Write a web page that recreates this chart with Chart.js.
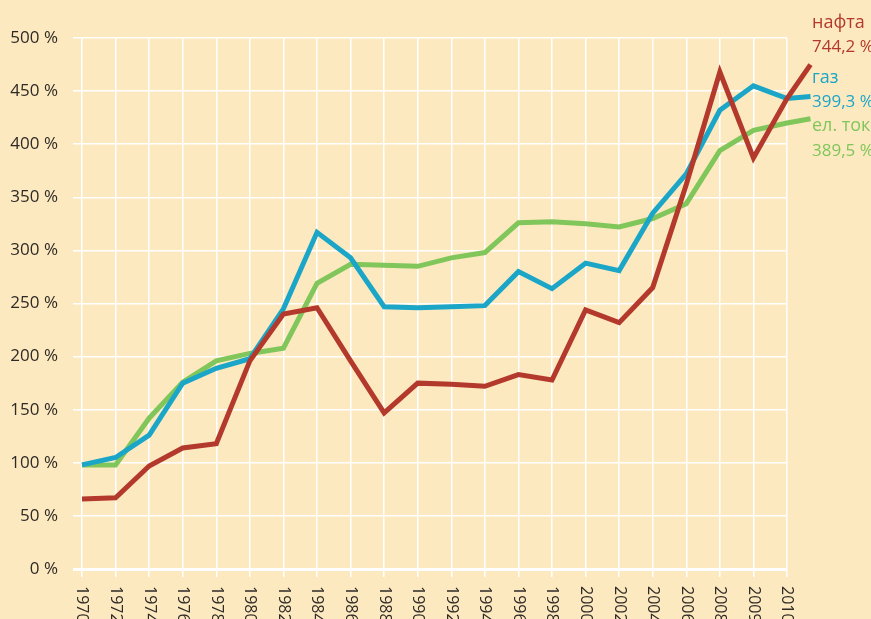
<!DOCTYPE html>
<html>
<head>
<meta charset="utf-8">
<script src="https://cdn.jsdelivr.net/npm/chart.js@4.4.0/dist/chart.umd.min.js"></script>
<style>
    html, body { margin: 0; padding: 0; background: #fde9c0; }
    #wrap { width: 871px; height: 619px; }
</style>
</head>
<body>
<div id="wrap"><canvas id="grafik"></canvas></div>
<script>
// Години на x-оската
const godini = ['1970', '1972', '1974', '1976', '1978', '1980', '1982', '1984', '1986', '1988',
    '1990', '1992', '1994', '1996', '1998', '2000', '2002', '2004', '2006', '2008', '2009', '2010'];
// последното мерење е малку по 2010 (дел од интервалот)
const posledno = godini.length - 1 + 0.7;

// Вредности во % (1970 = база)
const nafta = [66, 67, 97, 114, 118, 196, 240, 246, 196, 147, 175, 174, 172, 183, 178, 244, 232, 265, 362, 468, 387, 443, 475];
const gas = [98, 105, 126, 175, 189, 198, 245, 317, 293, 247, 246, 247, 248, 280, 264, 288, 281, 335, 372, 432, 455, 443, 445];
const struja = [98, 98, 142, 176, 196, 203, 208, 269, 287, 286, 285, 293, 298, 326, 327, 325, 322, 330, 344, 394, 413, 420, 424];

const iminja = ['нафта', 'газ', 'ел. ток'];
const vrednosti = ['744,2 %', '399,3 %', '389,5 %'];
const boi = ['#b3392c', '#1ba6c8', '#80c65a'];

const FONT = '"Open Sans", "Noto Sans", sans-serif';

function punkti(niza) {
    return niza.map((v, i) => ({ x: i < godini.length ? i : posledno, y: v }));
}

// Ознаки на x-оската (ротирани надолу) и имињата на серии десно
const oznakiPlugin = {
    id: 'oznaki',
    afterDraw(chart) {
        const ctx = chart.ctx;
        const xs = chart.scales.x;
        const area = chart.chartArea;

        ctx.save();
        ctx.font = '16px ' + FONT;
        ctx.fillStyle = '#2e2a25';
        ctx.textAlign = 'left';
        ctx.textBaseline = 'middle';
        xs.ticks.forEach(t => {
            const px = xs.getPixelForValue(t.value);
            ctx.save();
            ctx.translate(px, area.bottom + 17);
            ctx.rotate(Math.PI / 2);
            ctx.fillText(godini[t.value], 0, 0);
            ctx.restore();
        });

        const lx = area.right + 25;
        const redovi = [[28, 52], [83, 107], [131, 156]];
        ctx.textBaseline = 'alphabetic';
        iminja.forEach((ime, i) => {
            ctx.fillStyle = boi[i];
            ctx.font = '18px ' + FONT;
            ctx.fillText(ime, lx, redovi[i][0]);
            ctx.font = '17px ' + FONT;
            ctx.fillText(vrednosti[i], lx, redovi[i][1]);
        });
        ctx.restore();
    }
};

function linija(label, podatoci, boja) {
    return {
        label: label,
        data: punkti(podatoci),
        borderColor: boja,
        backgroundColor: boja,
        borderWidth: 5,
        pointRadius: 0,
        tension: 0,
        borderJoinStyle: 'miter',
        borderCapStyle: 'butt',
        clip: false
    };
}

new Chart(document.getElementById('grafik'), {
    type: 'line',
    data: {
        datasets: [
            linija(iminja[0], nafta, boi[0]),
            linija(iminja[1], gas, boi[1]),
            linija(iminja[2], struja, boi[2])
        ]
    },
    options: {
        responsive: true,
        maintainAspectRatio: false,
        animation: false,
        layout: {
            padding: { top: 38, right: 84, bottom: 0, left: 0 }
        },
        plugins: {
            legend: { display: false },
            tooltip: { enabled: false }
        },
        scales: {
            x: {
                type: 'linear',
                bounds: 'data',
                // оската завршува на 2010, линиите продолжуваат надвор
                afterDataLimits: s => { s.min = 0; s.max = godini.length - 1; },
                afterBuildTicks: s => { s.ticks = godini.map((g, i) => ({ value: i })); },
                border: { display: false },
                grid: {
                    color: '#ffffff',
                    lineWidth: 1.5,
                    tickLength: 8
                },
                ticks: { display: false, autoSkip: false, stepSize: 1 },
                afterFit: s => { s.height = 50; }
            },
            y: {
                min: 0,
                max: 500,
                border: { display: false },
                grid: {
                    color: '#ffffff',
                    lineWidth: c => (c.tick && c.tick.value === 0 ? 3 : 1.5),
                    tickLength: 9
                },
                ticks: {
                    stepSize: 50,
                    padding: 15,
                    color: '#2e2a25',
                    font: { family: FONT, size: 17 },
                    callback: v => v + ' %'
                },
                afterFit: s => { s.width = 82; }
            }
        }
    },
    plugins: [oznakiPlugin]
});
</script>
</body>
</html>
